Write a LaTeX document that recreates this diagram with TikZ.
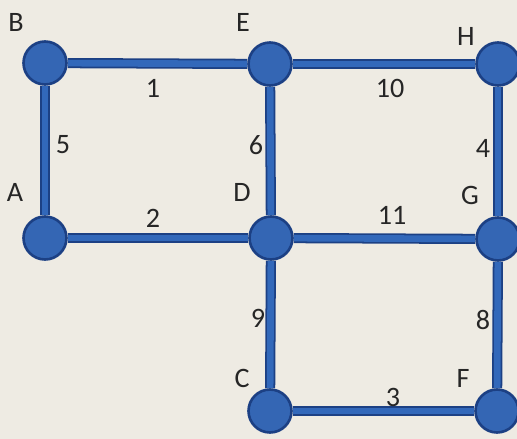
\documentclass[tikz,border=0pt]{standalone}
\usepackage{fontspec}
\setmainfont{Carlito}
\usepackage{xcolor}
\definecolor{paper}{RGB}{238,235,227}
\definecolor{nodeblue}{RGB}{52,102,180}
\definecolor{rimblue}{RGB}{28,64,132}
\definecolor{lineblue}{RGB}{50,104,186}

\begin{document}
\begin{tikzpicture}[x=0.02cm, y=-0.02cm,
  vert/.style={circle, fill=nodeblue, draw=rimblue, line width=1.5pt, minimum size=0.86cm, inner sep=0pt},
  edge/.style={draw=rimblue, line width=1pt, double=lineblue, double distance=3.8pt},
  lbl/.style={font=\fontsize{16}{18}\selectfont, text=black!85, inner sep=0pt}]
  \fill[paper] (0,0) rectangle (517,439);
  \useasboundingbox[clip] (0,0) rectangle (517,439);
  % vertices
  \node[vert] (B) at (45,63) {};
  \node[vert] (E) at (270,64) {};
  \node[vert] (H) at (498,64) {};
  \node[vert] (A) at (45,238) {};
  \node[vert] (D) at (271,238) {};
  \node[vert] (G) at (498,239) {};
  \node[vert] (C) at (270,411) {};
  \node[vert] (F) at (497,411) {};
  % edges
  \draw[edge] (B) -- (E);
  \draw[edge] (E) -- (H);
  \draw[edge] (B) -- (A);
  \draw[edge] (E) -- (D);
  \draw[edge] (H) -- (G);
  \draw[edge] (A) -- (D);
  \draw[edge] (D) -- (G);
  \draw[edge] (D) -- (C);
  \draw[edge] (G) -- (F);
  \draw[edge] (C) -- (F);
  % vertex names
  \node[lbl] (nB) at (16,22) {B};
  \node[lbl] (nE) at (243,22) {E};
  \node[lbl] (nH) at (466,36) {H};
  \node[lbl] (nA) at (15,192) {A};
  \node[lbl] (nD) at (242,192) {D};
  \node[lbl] (nG) at (470,195) {G};
  \node[lbl] (nC) at (242,378) {C};
  \node[lbl] (nF) at (463,378) {F};
  % weights
  \node[lbl] (w1) at (153,88) {1};
  \node[lbl] (w10) at (390,88) {10};
  \node[lbl] (w5) at (63,145) {5};
  \node[lbl] (w6) at (256,145) {6};
  \node[lbl] (w4) at (483,148) {4};
  \node[lbl] (w2) at (153,218) {2};
  \node[lbl] (w11) at (392,215) {11};
  \node[lbl] (w9) at (258,318) {9};
  \node[lbl] (w8) at (483,320) {8};
  \node[lbl] (w3) at (393,397) {3};
\end{tikzpicture}
\end{document}
